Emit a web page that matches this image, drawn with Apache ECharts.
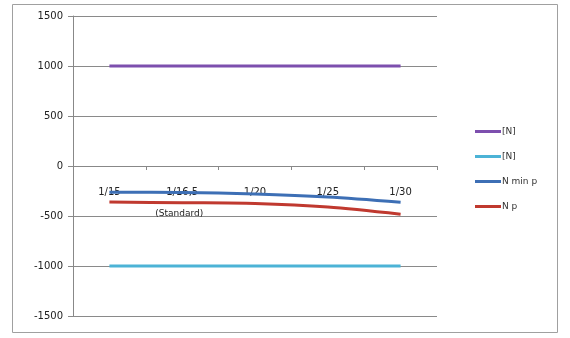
<!DOCTYPE html>
<html><head><meta charset="utf-8">
<script src="https://cdn.jsdelivr.net/npm/echarts@6/dist/echarts.min.js"></script>
<style>html,body{margin:0;padding:0;background:#fff}#c{width:570px;height:338px}</style>
</head><body><div id="c"></div>
<script>
var categories = ['1/15', '1/16,5\n(Standard)', '1/20', '1/25', '1/30'];
var seriesNames = ['[N]', '[N] ', 'N min p', 'N p'];
var upperN = [1000, 1000, 1000, 1000, 1000];
var lowerN = [-1000, -1000, -1000, -1000, -1000];
var nMinP = [-262, -265, -280, -310, -362];
var nP = [-360, -367, -375, -410, -482];
var yTicks = [-1500, 1500, 500];

var chart = echarts.init(document.getElementById('c'), null, {renderer: 'canvas'});
var colors = ['#7d4fae', '#4cb3d6', '#3d6fb5', '#c0392f'];
var datas = [upperN, lowerN, nMinP, nP];
chart.setOption({
  animation: false,
  color: colors,
  graphic: [{type: 'rect', shape: {x: 12.5, y: 4.5, width: 545, height: 328}, style: {fill: 'none', stroke: '#a0a0a0', lineWidth: 1}}],
  grid: {left: 73, right: 133, top: 16, bottom: 22, containLabel: false, outerBoundsMode: 'none'},
  legend: {
    orient: 'vertical', left: 470, top: 122, itemGap: 16, itemWidth: 26, itemHeight: 3,
    icon: 'rect',
    textStyle: {fontFamily: 'DejaVu Sans', fontSize: 9, color: '#333', padding: [0, 0, 0, -4]},
    data: seriesNames
  },
  xAxis: {
    type: 'category', data: categories, boundaryGap: true, position: 'bottom', offset: -150,
    axisLine: {onZero: false, lineStyle: {color: '#888', width: 1}},
    axisTick: {show: true, length: 4, inside: false, lineStyle: {color: '#888'}},
    axisLabel: {
      show: true, inside: false, margin: 15, interval: 0, color: '#222',
      fontFamily: 'DejaVu Sans', fontSize: 10, lineHeight: 22,
      formatter: function (v) { var p = v.split('\n'); return p.length > 1 ? p[0] + '\n{s|' + p[1] + '}' : p[0]; },
      rich: {s: {fontFamily: 'DejaVu Sans', fontSize: 9, color: '#222', padding: [0, 6, 0, 0]}}
    },
    splitLine: {show: false}
  },
  yAxis: {
    type: 'value', min: yTicks[0], max: yTicks[1], interval: yTicks[2],
    axisLine: {show: true, lineStyle: {color: '#888'}},
    axisTick: {show: true, length: 5, lineStyle: {color: '#888'}},
    axisLabel: {color: '#222', fontFamily: 'DejaVu Sans', fontSize: 10, margin: 10, formatter: function (v) { return String(v); }},
    splitLine: {show: true, lineStyle: {color: '#8a8a8a', width: 1}}
  },
  series: seriesNames.map(function (n, i) {
    return {name: n, type: 'line', data: datas[i], symbol: 'none', smooth: i >= 2 ? 0.3 : false,
      lineStyle: {width: 3, color: colors[i]}, z: 3};
  })
});
</script></body></html>
